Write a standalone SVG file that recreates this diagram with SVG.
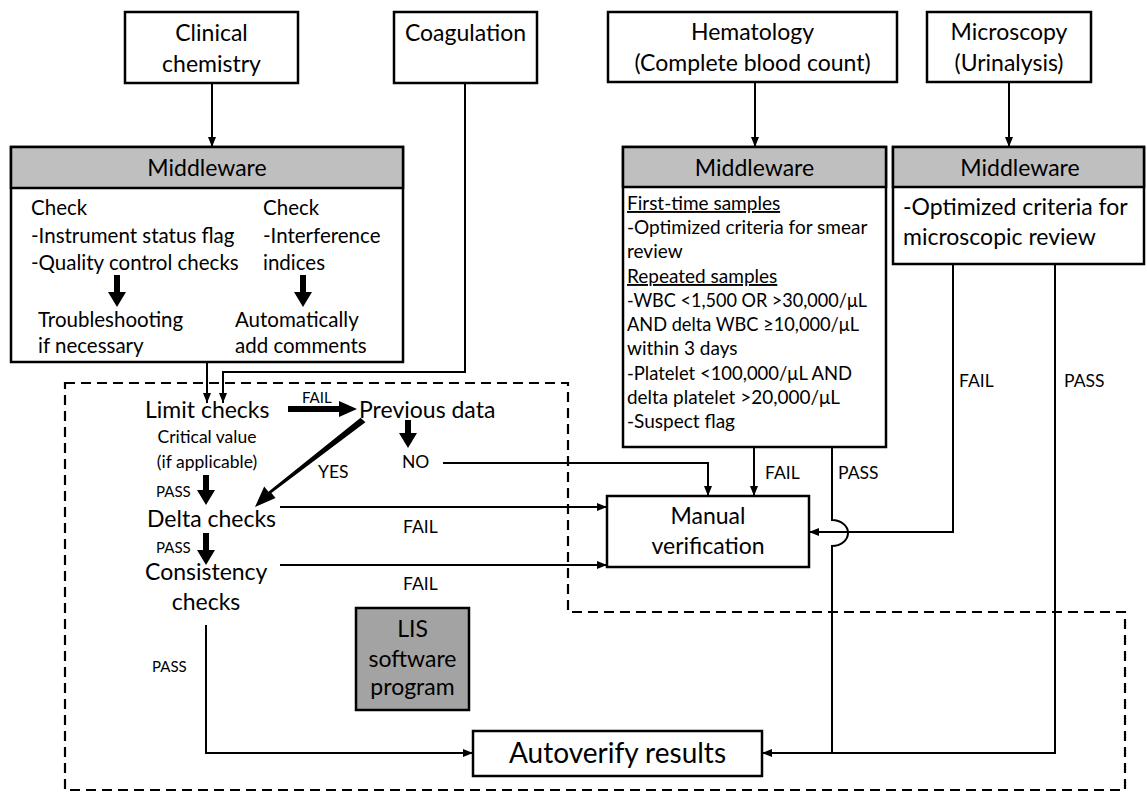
<svg xmlns="http://www.w3.org/2000/svg" width="1147" height="796" viewBox="0 0 1147 796">
<defs>
<marker id="ah" markerUnits="userSpaceOnUse" markerWidth="10" markerHeight="10" viewBox="0 0 10 10" refX="10" refY="5" orient="auto">
<path d="M0,1 L10,5 L0,9 Z" fill="#000"/>
</marker>
<style>
text{font-family:Lato,"Liberation Sans",sans-serif;fill:#000}
.box{fill:#fff;stroke:#000;stroke-width:2.5}
.hdr{fill:#bfbfbf;stroke:#000;stroke-width:2.5}
.lis{fill:#a3a3a3;stroke:#000;stroke-width:2.5}
.ln{fill:none;stroke:#000;stroke-width:2}
.ar{fill:none;stroke:#000;stroke-width:2;marker-end:url(#ah)}
.dash{fill:none;stroke:#000;stroke-width:2.2;stroke-dasharray:10 6}
.big{font-size:23px}
.hd{font-size:23px}
.c{text-anchor:middle}
.body1{font-size:20.5px}
.body2{font-size:19px}
.body3{font-size:23px}
.lbl{font-size:17.5px}
.sm{font-size:15px}
.thick{fill:#000}
</style>
</defs>

<g id="clinical-chemistry">
<rect class="box" x="125" y="12" width="173" height="71"/>
<text class="big c" x="211.5" y="41">Clinical</text>
<text class="big c" x="211.5" y="72">chemistry</text>
</g>
<g id="coagulation">
<rect class="box" x="394" y="12" width="143" height="71"/>
<text class="big c" x="465.5" y="41">Coagulation</text>
</g>
<g id="hematology">
<rect class="box" x="608" y="12" width="289" height="70"/>
<text class="big c" x="752.5" y="40">Hematology</text>
<text class="big c" x="752.5" y="71">(Complete blood count)</text>
</g>
<g id="microscopy">
<rect class="box" x="927" y="12" width="164" height="70"/>
<text class="big c" x="1009" y="40">Microscopy</text>
<text class="big c" x="1009" y="71">(Urinalysis)</text>
</g>

<g id="middleware-chemistry">
<rect class="box" x="11" y="147" width="392" height="215"/>
<rect class="hdr" x="11" y="147" width="392" height="41"/>
<text class="hd c" x="207" y="176">Middleware</text>
<text class="body1" x="31" y="215">Check</text>
<text class="body1" x="31" y="243">-Instrument status flag</text>
<text class="body1" x="31" y="270">-Quality control checks</text>
<text class="body1" x="263" y="215">Check</text>
<text class="body1" x="263" y="243">-Interference</text>
<text class="body1" x="263" y="270">indices</text>
<polygon class="thick" points="114,275 120,275 120,292 126,292 117,307 108,292 114,292"/>
<polygon class="thick" points="300,275 306,275 306,292 312,292 303,307 294,292 300,292"/>
<text class="body1" x="38" y="327">Troubleshooting</text>
<text class="body1" x="38" y="353">if necessary</text>
<text class="body1" x="235" y="327">Automatically</text>
<text class="body1" x="235" y="353">add comments</text>
</g>

<g id="middleware-hematology">
<rect class="box" x="623" y="147" width="263" height="300"/>
<rect class="hdr" x="623" y="147" width="263" height="40"/>
<text class="hd c" x="754.5" y="176">Middleware</text>
<text class="body2" x="627" y="210" text-decoration="underline">First-time samples</text>
<text class="body2" x="627" y="234">-Optimized criteria for smear</text>
<text class="body2" x="627" y="258">review</text>
<text class="body2" x="627" y="283" text-decoration="underline">Repeated samples</text>
<text class="body2" x="627" y="307" textLength="240" lengthAdjust="spacingAndGlyphs">-WBC &lt;1,500 OR &gt;30,000/μL</text>
<text class="body2" x="627" y="331" textLength="232" lengthAdjust="spacingAndGlyphs">AND delta WBC ≥10,000/μL</text>
<text class="body2" x="627" y="355">within 3 days</text>
<text class="body2" x="627" y="380" textLength="225" lengthAdjust="spacingAndGlyphs">-Platelet &lt;100,000/μL AND</text>
<text class="body2" x="627" y="404" textLength="213" lengthAdjust="spacingAndGlyphs">delta platelet &gt;20,000/μL</text>
<text class="body2" x="627" y="428">-Suspect flag</text>
</g>

<g id="middleware-microscopy">
<rect class="box" x="893" y="147" width="251" height="117"/>
<rect class="hdr" x="893" y="147" width="251" height="40"/>
<text class="hd c" x="1020" y="176">Middleware</text>
<text class="body3" x="903" y="215">-Optimized criteria for</text>
<text class="body3" x="903" y="245">microscopic review</text>
</g>

<g id="lis-region">
<path class="dash" d="M65,383 H568 V612 H1125 V790 H65 Z"/>
</g>

<g id="limit-checks"><text class="big" x="145" y="418">Limit checks</text></g>
<g id="previous-data"><text class="big" x="359" y="418">Previous data</text></g>
<g id="critical-value">
<text class="lbl c" x="207" y="443">Critical value</text>
<text class="lbl c" x="207" y="468">(if applicable)</text>
</g>
<g id="no-node"><text class="lbl" x="402" y="468">NO</text></g>
<g id="delta-checks"><text class="big" x="147" y="527">Delta checks</text></g>
<g id="consistency-checks">
<text class="big" x="145" y="580">Consistency</text>
<text class="big c" x="206" y="610">checks</text>
</g>

<g id="lis-program">
<rect class="lis" x="356" y="608" width="113" height="102"/>
<text class="big c" x="412.5" y="637">LIS</text>
<text class="big c" x="412.5" y="667">software</text>
<text class="big c" x="412.5" y="695">program</text>
</g>

<g id="manual-verification">
<rect class="box" x="607" y="496" width="202" height="71"/>
<text class="big c" x="708" y="524">Manual</text>
<text class="big c" x="708" y="554">verification</text>
</g>

<g id="autoverify-results">
<rect class="box" x="473" y="731" width="289" height="45"/>
<text class="c" style="font-size:28px" x="617.5" y="763">Autoverify results</text>
</g>

<g id="connectors">
<line class="ar" x1="212" y1="83" x2="212" y2="147"/>
<line class="ar" x1="755" y1="82" x2="755" y2="147"/>
<line class="ar" x1="1009" y1="82" x2="1009" y2="147"/>
<line class="ar" x1="207" y1="362" x2="207" y2="403"/>
<path class="ar" d="M465,83 V372 H223 V403"/>
<polygon class="thick" points="288,406 339,406 339,401 357,409 339,417 339,412 288,412"/>
<text class="sm" x="302" y="403">FAIL</text>
<polygon class="thick" points="405,420 411,420 411,433 417,433 408,448 399,433 405,433"/>
<polygon class="thick" points="365.4,422.3 360.6,417.7 268.4,491.8 264.2,486.6 255,507 275.6,498.1 271.4,492.9"/>
<text class="lbl" x="318" y="478">YES</text>
<polygon class="thick" points="203,475 209,475 209,490 215,490 206,505 197,490 203,490"/>
<text class="sm" x="156" y="497">PASS</text>
<polygon class="thick" points="203,533 209,533 209,550 215,550 206,565 197,550 203,550"/>
<text class="sm" x="156" y="553">PASS</text>
<path class="ar" d="M443,463 H708 V496"/>
<line class="ar" x1="280" y1="507" x2="607" y2="507"/>
<text class="lbl" x="403" y="533">FAIL</text>
<line class="ar" x1="280" y1="565" x2="607" y2="565"/>
<text class="lbl" x="403" y="590">FAIL</text>
<path class="ar" d="M206,625 V753 H473"/>
<text class="sm" x="152" y="672">PASS</text>
<line class="ar" x1="754" y1="447" x2="754" y2="496"/>
<text class="lbl" x="765" y="479">FAIL</text>
<path class="ln" d="M832,447 V520 A16,13 0 0 1 832,546 V753"/>
<text class="lbl" x="838" y="479">PASS</text>
<path class="ar" d="M953,264 V532 H809"/>
<text class="lbl" x="959" y="387">FAIL</text>
<path class="ar" d="M1055,264 V753 H762"/>
<text class="lbl" x="1064" y="387">PASS</text>
</g>
</svg>
